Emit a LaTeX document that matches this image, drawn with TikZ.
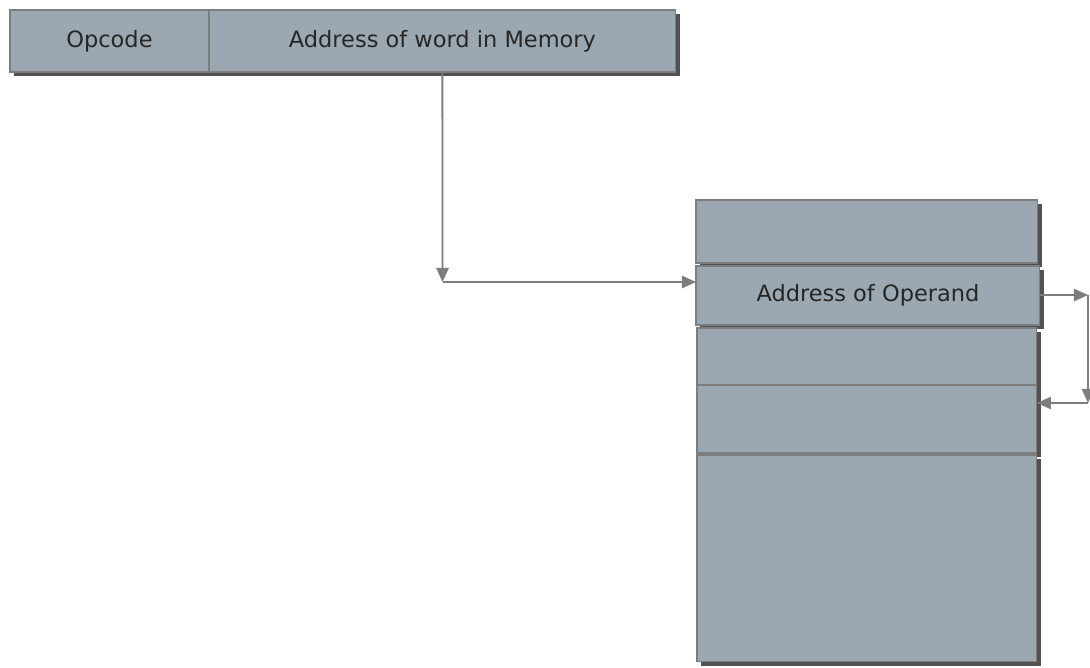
\documentclass[tikz,border=0pt]{standalone}
\usepackage{fontspec}
\setmainfont{DejaVu Sans}
\usetikzlibrary{arrows.meta,shadows,calc}
\definecolor{cellfill}{RGB}{155,168,177}
\definecolor{linkgray}{RGB}{125,125,125}
\tikzset{
  cell/.style={draw=linkgray, fill=cellfill, line width=0.6pt, inner sep=0pt, outer sep=0pt,
    anchor=north west, font=\fontsize{12.8}{15}\selectfont, text=black!85,
    drop shadow={shadow xshift=0.08cm, shadow yshift=-0.08cm, fill=black!80, opacity=0.85}},
  link/.style={draw=linkgray, line width=1.1pt, -{Triangle[length=8pt,width=7pt]}}
}

\begin{document}
\begin{tikzpicture}[x=0.02cm,y=-0.02cm]
\useasboundingbox (0,0) rectangle (1090,667);

% instruction
\node[cell, minimum width=3.98cm, minimum height=1.24cm] (opcode) at (10,10) {Opcode};
\node[cell, minimum width=9.34cm, minimum height=1.24cm] (addr) at (209,10) {Address of word in Memory};

% memory
\node[cell, minimum width=6.84cm, minimum height=1.26cm] (m1) at (696,200) {};
\node[cell, minimum width=6.88cm, minimum height=1.18cm] (m2) at (696,266) {Address of Operand};
\node[cell, minimum width=6.80cm, minimum height=1.14cm] (m3) at (697,328) {};
\node[cell, minimum width=6.80cm, minimum height=1.36cm] (m4) at (697,385) {};
\node[cell, minimum width=6.80cm, minimum height=4.14cm] (m5) at (697,455) {};

\coordinate (bend) at (442.5,282);
\coordinate (r1) at (1088,295);
\coordinate (r2) at (1088,403);

\draw[link] (addr.south) -- (bend);
\draw[link] (bend) -- (bend -| m2.west);

\draw[link] (m2.east |- r1) -- (r1);
\draw[link] (r1) -- (r2);
\draw[link] (r2) -- (r2 -| m4.east);
\end{tikzpicture}
\end{document}
